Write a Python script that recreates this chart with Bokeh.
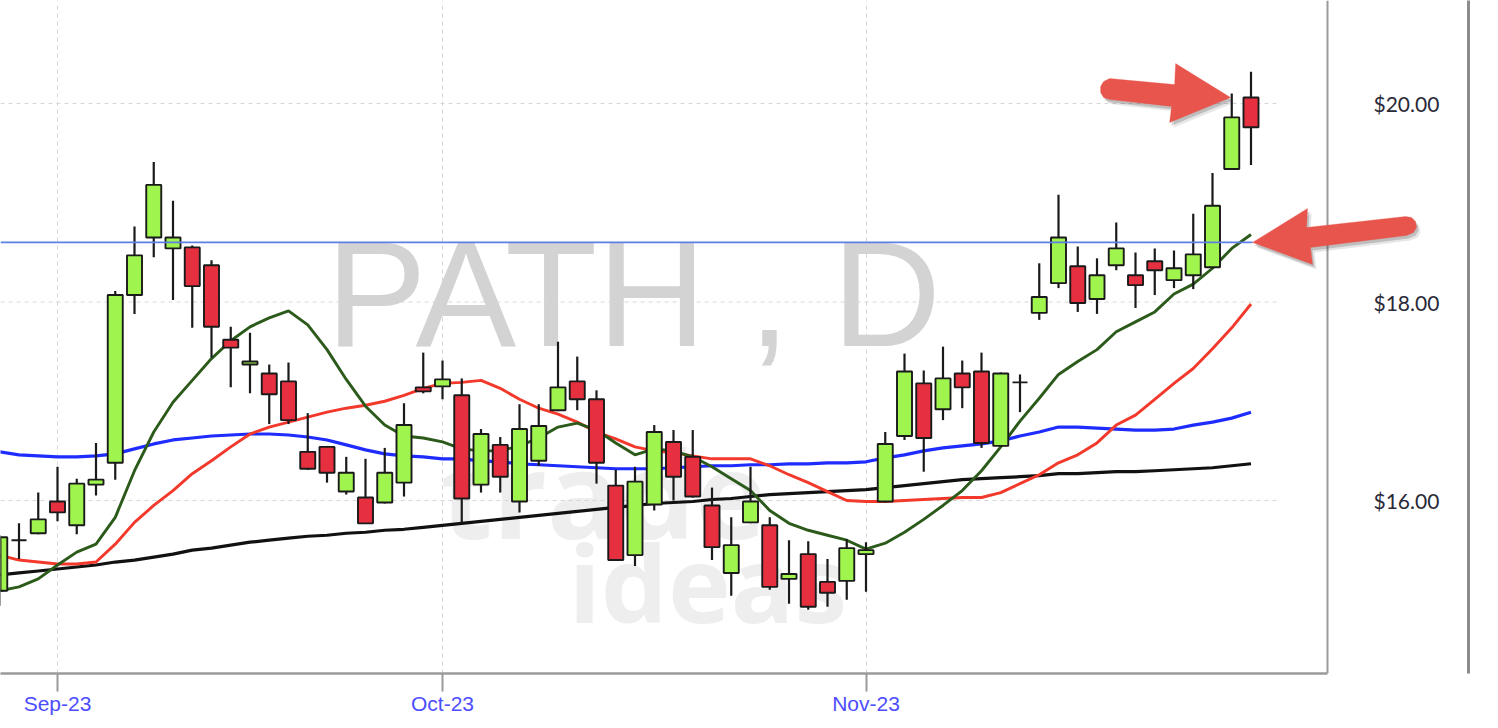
from bokeh.plotting import figure
from bokeh.models import Range1d, LinearAxis, FixedTicker, ColumnDataSource, PolyAnnotation
from bokeh.core.properties import value
from bokeh.embed import file_html
from bokeh.resources import INLINE

# ---------------- data ----------------
bar_index = list(range(-3, 63))   # 0 = 1 Sep 2023 (trading-day index)

opens = [15.09, 15.60, 15.67, 15.99, 15.75, 16.16, 16.38, 18.07, 18.65, 18.54,
         18.55, 18.37, 17.62, 17.37, 17.28, 17.20, 16.49, 16.54, 16.09, 16.03,
         15.98, 16.18, 17.14, 17.15, 17.06, 16.16, 16.56, 15.99, 16.40, 16.91,
         17.20, 17.02, 16.15, 15.45, 15.96, 16.59, 16.44, 15.95, 15.27, 15.78,
         15.75, 15.21, 15.46, 15.18, 15.19, 15.46, 15.99, 16.65, 17.18, 16.92,
         17.28, 17.30, 16.55, 17.19, 17.89, 18.19, 18.36, 18.03, 18.37, 18.27,
         18.41, 18.22, 18.27, 18.35, 19.34, 20.06]
highs = [15.65, 15.77, 16.08, 16.34, 16.22, 16.58, 18.11, 18.76, 19.41, 19.02,
         18.57, 18.42, 17.75, 17.69, 17.37, 17.39, 16.88, 16.55, 16.44, 16.42,
         16.53, 16.98, 17.49, 17.41, 17.23, 16.72, 16.64, 16.97, 16.97, 17.60,
         17.45, 17.11, 16.31, 16.34, 16.76, 16.71, 16.71, 16.13, 15.83, 16.34,
         15.83, 15.60, 15.59, 15.41, 15.61, 15.58, 16.69, 17.48, 17.31, 17.55,
         17.41, 17.49, 17.29, 17.27, 18.39, 19.08, 18.56, 18.44, 18.80, 18.50,
         18.54, 18.52, 18.89, 19.30, 20.10, 20.32]
lows = [14.94, 15.41, 15.66, 15.79, 15.66, 16.05, 16.21, 17.88, 18.45, 18.02,
        17.74, 17.44, 17.14, 17.08, 16.77, 16.77, 16.31, 16.18, 16.06, 15.77,
        15.97, 16.04, 17.08, 17.02, 15.77, 16.08, 16.08, 15.88, 16.35, 16.90,
        16.91, 16.17, 15.39, 15.34, 15.90, 16.00, 16.03, 15.40, 15.04, 15.77,
        15.10, 14.96, 14.90, 14.93, 15.00, 15.08, 15.98, 16.61, 16.29, 16.81,
        16.93, 16.53, 16.54, 16.89, 17.82, 18.14, 17.90, 17.88, 18.32, 17.94,
        18.07, 18.14, 18.13, 18.34, 19.33, 19.38]
closes = [15.63, 15.60, 15.81, 15.88, 16.17, 16.21, 18.07, 18.47, 19.18, 18.65,
          18.16, 17.75, 17.54, 17.40, 17.07, 16.81, 16.32, 16.28, 16.28, 15.77,
          16.28, 16.76, 17.10, 17.22, 16.02, 16.67, 16.24, 16.72, 16.75, 17.14,
          17.02, 16.38, 15.40, 16.19, 16.69, 16.24, 16.04, 15.53, 15.55, 15.99,
          15.13, 15.26, 14.93, 15.07, 15.52, 15.50, 16.57, 17.30, 16.63, 17.23,
          17.14, 16.58, 17.28, 17.19, 18.05, 18.65, 17.99, 18.27, 18.54, 18.17,
          18.32, 18.34, 18.48, 18.97, 19.86, 19.76]

ma_fast = [15.09, 15.13, 15.21, 15.35, 15.48, 15.56, 15.83, 16.30, 16.69, 16.99,
           17.21, 17.43, 17.61, 17.75, 17.84, 17.91, 17.77, 17.52, 17.22, 16.95,
           16.76, 16.65, 16.63, 16.59, 16.52, 16.50, 16.50, 16.55, 16.63, 16.74,
           16.78, 16.71, 16.58, 16.46, 16.52, 16.50, 16.44, 16.34, 16.22, 16.10,
           15.90, 15.77, 15.70, 15.65, 15.60, 15.51, 15.57, 15.68, 15.81, 15.95,
           16.10, 16.30, 16.54, 16.80, 17.03, 17.27, 17.40, 17.52, 17.70, 17.80,
           17.90, 18.08, 18.18, 18.34, 18.54, 18.68]
ma_mid = [15.45, 15.40, 15.38, 15.36, 15.36, 15.38, 15.56, 15.78, 15.95, 16.10,
          16.27, 16.40, 16.54, 16.67, 16.74, 16.79, 16.84, 16.89, 16.93, 16.96,
          17.00, 17.06, 17.13, 17.18, 17.19, 17.21, 17.13, 17.02, 16.93, 16.87,
          16.79, 16.69, 16.62, 16.54, 16.50, 16.48, 16.45, 16.42, 16.42, 16.42,
          16.35, 16.26, 16.18, 16.09, 16.00, 15.99, 15.99, 16.00, 16.01, 16.02,
          16.03, 16.03, 16.08, 16.17, 16.26, 16.38, 16.46, 16.58, 16.76, 16.86,
          17.02, 17.18, 17.33, 17.53, 17.74, 17.98]
ma_slow = [16.49, 16.46, 16.45, 16.44, 16.44, 16.45, 16.47, 16.52, 16.57, 16.61,
           16.63, 16.65, 16.66, 16.67, 16.67, 16.66, 16.64, 16.61, 16.56, 16.51,
           16.47, 16.45, 16.44, 16.42, 16.42, 16.40, 16.39, 16.37, 16.36, 16.35,
           16.34, 16.33, 16.32, 16.32, 16.32, 16.33, 16.34, 16.35, 16.35, 16.36,
           16.36, 16.37, 16.37, 16.38, 16.38, 16.39, 16.43, 16.46, 16.50, 16.53,
           16.55, 16.57, 16.60, 16.65, 16.69, 16.74, 16.74, 16.73, 16.72, 16.71,
           16.71, 16.72, 16.76, 16.79, 16.83, 16.89]
ma_long = [15.25, 15.27, 15.29, 15.31, 15.33, 15.35, 15.38, 15.40, 15.43, 15.46,
           15.50, 15.52, 15.55, 15.58, 15.60, 15.62, 15.64, 15.65, 15.67, 15.68,
           15.70, 15.71, 15.73, 15.75, 15.77, 15.79, 15.81, 15.83, 15.85, 15.87,
           15.89, 15.91, 15.93, 15.95, 15.97, 15.98, 15.99, 16.01, 16.02, 16.04,
           16.06, 16.07, 16.08, 16.09, 16.10, 16.11, 16.13, 16.15, 16.17, 16.19,
           16.21, 16.22, 16.23, 16.24, 16.25, 16.27, 16.27, 16.28, 16.29, 16.29,
           16.30, 16.31, 16.32, 16.33, 16.35, 16.37]

month_ticks = [0, 20, 42]
month_labels = ["Sep-23", "Oct-23", "Nov-23"]
price_ticks = [16, 18, 20]
price_labels = ["$16.00", "$18.00", "$20.00"]
grid_prices = [14, 16, 18, 20]
level_price = 18.60
watermark = "PATH , D"

# ---------------- geometry ----------------
PX_BAR = 19.25
PX_USD = 99.25
FRAME_W, FRAME_H = 1468, 673
x_start = -57 / PX_BAR
x_end = x_start + FRAME_W / PX_BAR
y_end = 20 + 103 / PX_USD
y_start = y_end - FRAME_H / PX_USD


def px(xp, yp):
    """reference picture pixel -> data coordinates"""
    return (xp - 57) / PX_BAR, 20 - (yp - 103) / PX_USD


p = figure(frame_width=FRAME_W, frame_height=FRAME_H,
           x_range=Range1d(x_start, x_end), y_range=Range1d(y_start, y_end),
           y_axis_location="right", output_backend="svg", toolbar_location=None,
           min_border_left=0, min_border_top=0, min_border_bottom=0, min_border_right=4)
p.outline_line_color = None
p.background_fill_color = "white"
p.border_fill_color = "white"

# grid
p.ygrid.visible = False
p.xgrid.ticker = FixedTicker(ticks=month_ticks)
p.xgrid.grid_line_color = "#d6d6d6"
p.xgrid.grid_line_dash = "4 4"
p.xgrid.grid_line_width = 1

# watermark texts (anchor raised to compensate the renderer's baseline offset)
wx, wy = px(633, 347 - 54)
p.text(x=[wx], y=[wy], text=[watermark], text_font=value("Liberation Sans"),
       text_font_size="151px", text_color="#d3d3d3", text_align="center",
       text_baseline="alphabetic")
tx, ty = px(440, 540 - 48)
p.text(x=[tx], y=[ty], text=["trade"], text_font=value("Open Sans"), text_font_style="bold",
       text_font_size="120px", text_color="#eeeeee", text_align="left", text_baseline="alphabetic")
ix, iy = px(568, 623 - 42)
p.text(x=[ix], y=[iy], text=["ideas"], text_font=value("Open Sans"), text_font_style="bold",
       text_font_size="106px", text_color="#eeeeee", text_align="left", text_baseline="alphabetic")

gx_end, _ = px(1280, 0)
p.segment(x0=[x_start] * len(grid_prices), y0=grid_prices, x1=[gx_end] * len(grid_prices),
          y1=grid_prices, line_color="#d6d6d6", line_dash="4 4", line_width=1)

# moving averages
p.line(bar_index, ma_long, line_color="#111111", line_width=3.2)
p.line(bar_index, ma_slow, line_color="#1e2cff", line_width=3.2)
p.line(bar_index, ma_mid, line_color="#f2392b", line_width=2.9)
p.line(bar_index, ma_fast, line_color="#2b5a1a", line_width=2.9)

# candles
tops = [max(o, c) for o, c in zip(opens, closes)]
bots = [min(o, c) for o, c in zip(opens, closes)]
fills = ["#111111" if c == o else ("#9ff54e" if c > o else "#e6303f") for o, c in zip(opens, closes)]
src = ColumnDataSource(dict(x=bar_index, high=highs, low=lows, top=tops, bottom=bots, fill=fills))
p.segment(x0="x", y0="high", x1="x", y1="low", source=src, line_color="#1a1a1a", line_width=2.2)
p.vbar(x="x", width=0.78, top="top", bottom="bottom", source=src, fill_color="fill",
       line_color="#1a1a1a", line_width=1.9)

# support level
p.segment(x0=[x_start], y0=[level_price], x1=[bar_index[-1] + 0.08], y1=[level_price],
          line_color="#5d7fe6", line_width=1.7)

# arrows (offsets in pixels from the tip)
arrow1 = [(0, 0), (-61, 25), (-59, 9), (-121, 2), (-127, 0), (-130, -5), (-130, -11),
          (-127, -16), (-121, -19), (-56, -13), (-55, -34)]
arrow2 = [(0, 0), (55, -34), (54, -15), (153, -26), (159, -25), (163, -21), (164, -15),
          (161, -10), (154, -7), (58, 5), (60, 22)]


def add_arrow(tip_x, tip_y, shape):
    for off, alpha in ((4, 0.12), (2, 0.22)):
        xs = [tip_x + (dx + off) / PX_BAR for dx, dy in shape]
        ys = [tip_y - (dy + off + 1) / PX_USD for dx, dy in shape]
        p.add_layout(PolyAnnotation(xs=xs, ys=ys, fill_color="#333333", fill_alpha=alpha,
                                    line_color=None))
    xs = [tip_x + dx / PX_BAR for dx, dy in shape]
    ys = [tip_y - dy / PX_USD for dx, dy in shape]
    p.add_layout(PolyAnnotation(xs=xs, ys=ys, fill_color="#e8554c", fill_alpha=1.0,
                                line_color="#e8554c", line_width=1))


add_arrow(bar_index[-2] - 0.06, highs[-2] - 0.04, arrow1)
add_arrow(bar_index[-1] + 0.08, level_price, arrow2)

panel_x, _ = px(1327, 0)

# bottom axis
xa = p.xaxis[0]
xa.ticker = FixedTicker(ticks=month_ticks)
xa.major_label_overrides = dict(zip(month_ticks, month_labels))
xa.bounds = (x_start, panel_x)
xa.axis_line_color = "#9a9a9a"
xa.axis_line_width = 2.5
xa.major_tick_out = 18
xa.major_tick_in = 0
xa.major_tick_line_color = "#9a9a9a"
xa.major_tick_line_width = 2
xa.minor_tick_out = 0
xa.minor_tick_in = 0
xa.major_label_standoff = 0
xa.major_label_text_font = "Liberation Sans"
xa.major_label_text_font_size = "21px"
xa.major_label_text_color = "#4d4dff"

# price axis, drawn at the chart/price-panel divider
ya = p.yaxis[0]
ya.fixed_location = panel_x
ya.ticker = FixedTicker(ticks=price_ticks)
ya.major_label_overrides = dict(zip(price_ticks, price_labels))
ya.axis_line_color = "#9a9a9a"
ya.axis_line_width = 2
ya.major_tick_out = 0
ya.major_tick_in = 0
ya.minor_tick_out = 0
ya.minor_tick_in = 0
ya.major_label_standoff = 46
ya.major_label_text_font = "Lato"
ya.major_label_text_font_size = "21px"
ya.major_label_text_color = "#2a2a38"

# outer border line of the price panel
border_axis = LinearAxis(ticker=FixedTicker(ticks=[]), axis_line_color="#8c8c8c",
                         axis_line_width=3, major_tick_out=0, major_tick_in=0,
                         minor_tick_out=0, minor_tick_in=0, major_label_standoff=0)
p.add_layout(border_axis, "right")

open("out.html", "w").write(file_html(p, INLINE))
